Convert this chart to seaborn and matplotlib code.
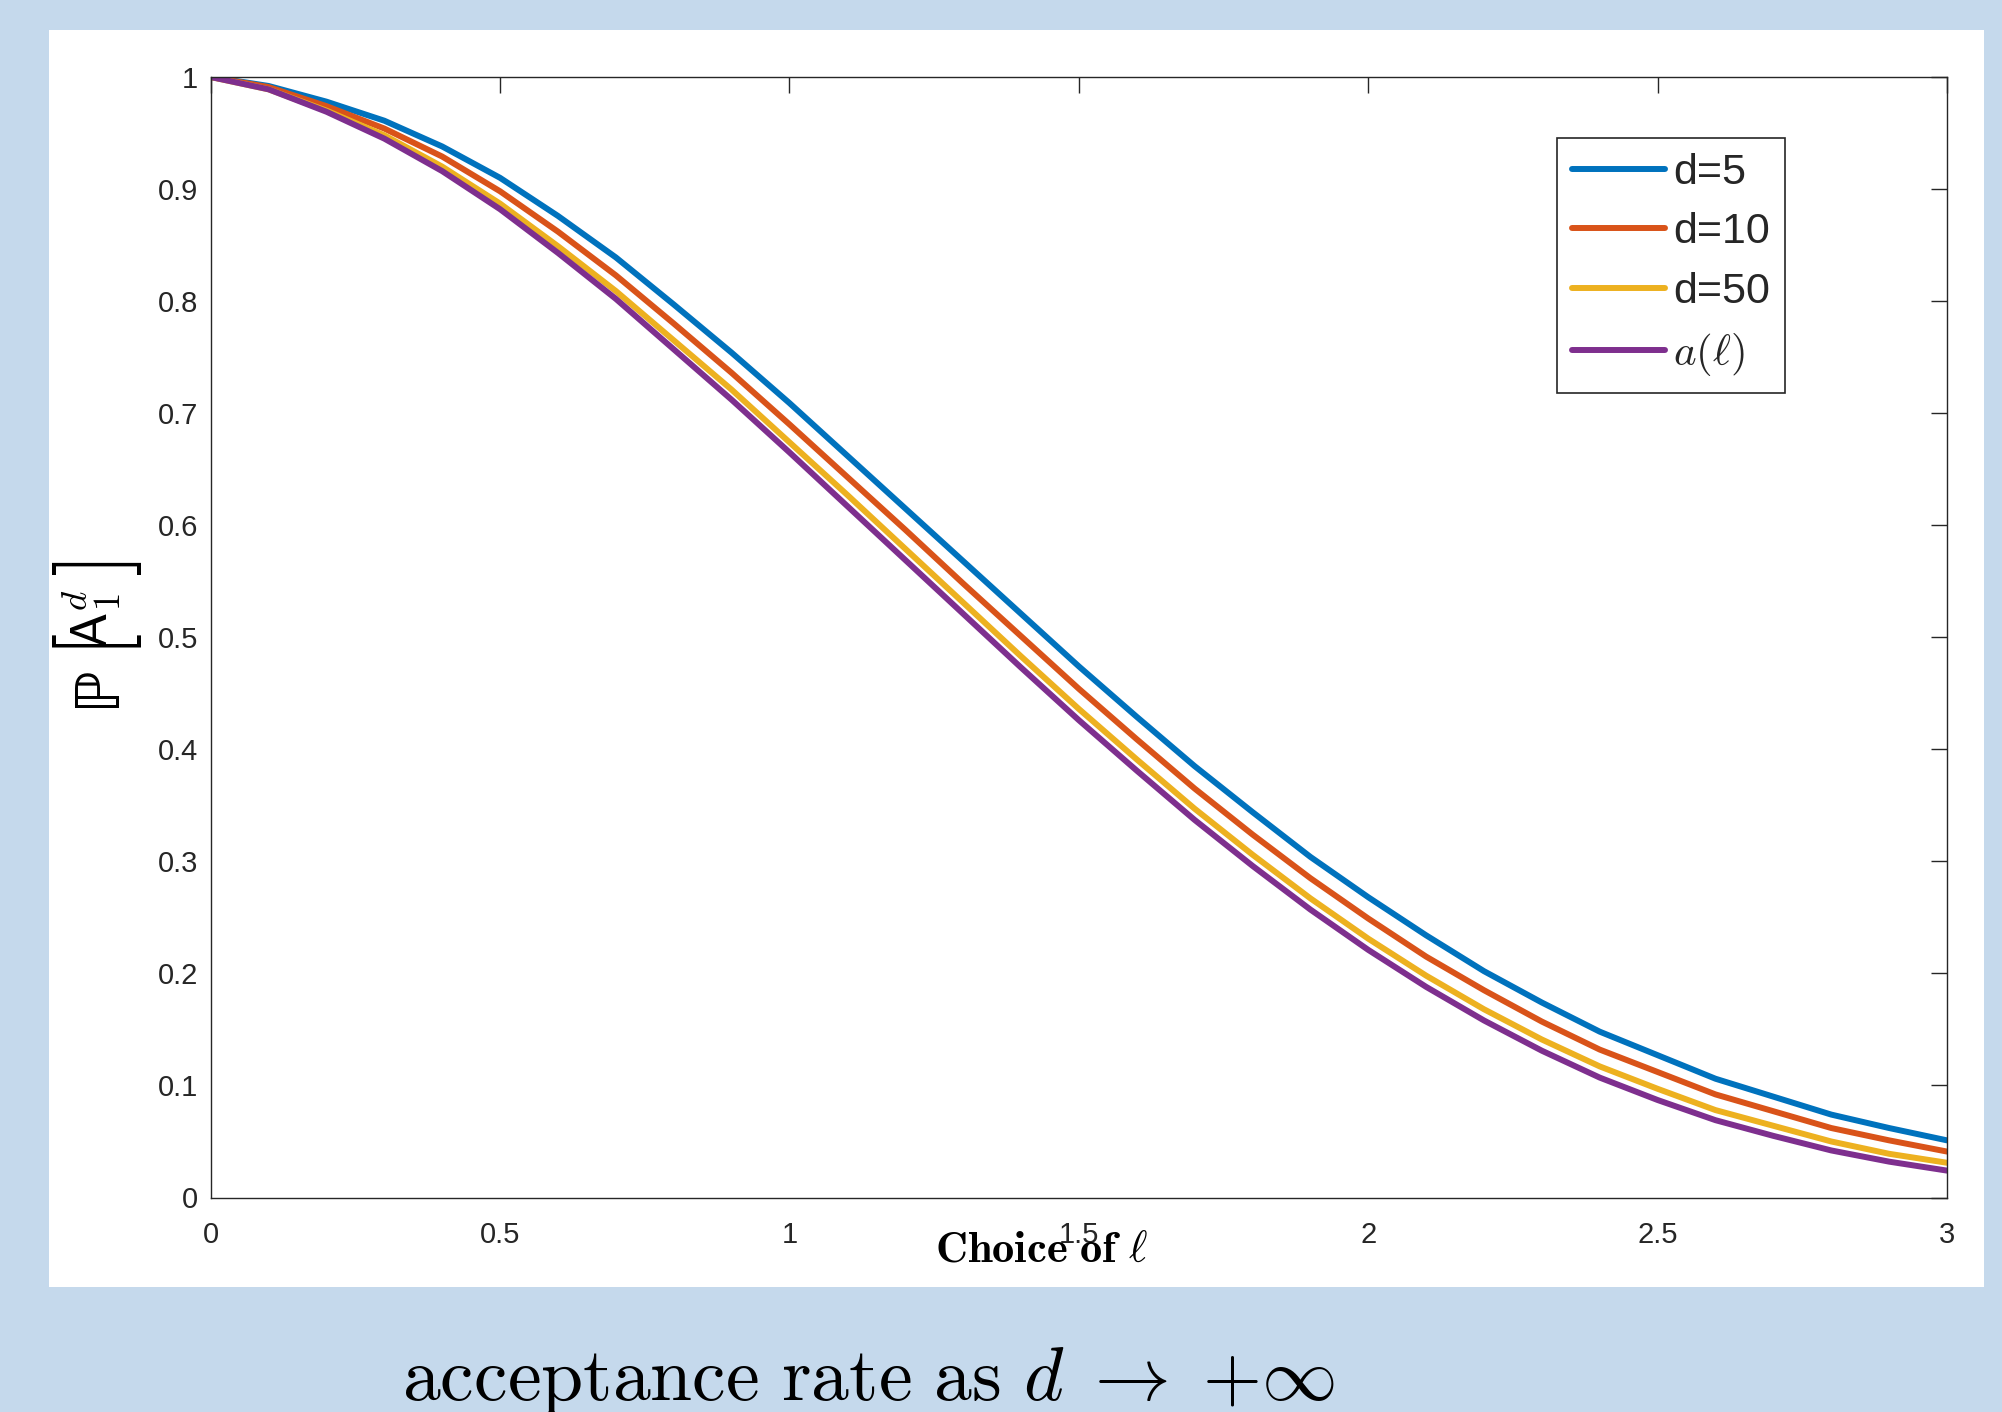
import numpy as np
import matplotlib
matplotlib.use("Agg")
import matplotlib.pyplot as plt
import seaborn as sns
from matplotlib.patches import Rectangle

# step length values (x axis)
ell = [0.0, 0.1, 0.2, 0.3, 0.4, 0.5, 0.6, 0.7, 0.8, 0.9, 1.0,
       1.1, 1.2, 1.3, 1.4, 1.5, 1.6, 1.7, 1.8, 1.9, 2.0,
       2.1, 2.2, 2.3, 2.4, 2.5, 2.6, 2.7, 2.8, 2.9, 3.0]

# acceptance probability
acc_d5 = [1.000, 0.992, 0.978, 0.961, 0.938, 0.910, 0.876, 0.839, 0.797, 0.754, 0.709,
          0.662, 0.615, 0.568, 0.521, 0.474, 0.429, 0.385, 0.344, 0.304, 0.268,
          0.234, 0.202, 0.174, 0.148, 0.127, 0.106, 0.090, 0.074, 0.062, 0.051]
acc_d10 = [1.000, 0.991, 0.974, 0.954, 0.929, 0.898, 0.862, 0.823, 0.780, 0.736, 0.690,
           0.643, 0.596, 0.548, 0.501, 0.454, 0.409, 0.365, 0.324, 0.285, 0.249,
           0.215, 0.185, 0.157, 0.132, 0.112, 0.092, 0.077, 0.062, 0.051, 0.041]
acc_d50 = [1.000, 0.989, 0.970, 0.948, 0.920, 0.887, 0.849, 0.809, 0.765, 0.721, 0.674,
           0.627, 0.579, 0.531, 0.483, 0.436, 0.391, 0.347, 0.306, 0.267, 0.231,
           0.198, 0.168, 0.141, 0.117, 0.097, 0.078, 0.064, 0.050, 0.039, 0.031]
acc_limit = [1.000, 0.989, 0.969, 0.945, 0.916, 0.882, 0.843, 0.802, 0.757, 0.712, 0.665,
             0.617, 0.569, 0.521, 0.473, 0.426, 0.381, 0.337, 0.296, 0.257, 0.221,
             0.188, 0.158, 0.131, 0.107, 0.087, 0.069, 0.055, 0.042, 0.032, 0.024]

labels = ["d=5", "d=10", "d=50", r"$a(\ell)$"]
colors = ["#0072BD", "#D95319", "#EDB120", "#7E2F8E"]

xtick_vals = [0, 0.5, 1, 1.5, 2, 2.5, 3]
xtick_labels = ["0", "0.5", "1", "1.5", "2", "2.5", "3"]
ytick_vals = [0, 0.1, 0.2, 0.3, 0.4, 0.5, 0.6, 0.7, 0.8, 0.9, 1]
ytick_labels = ["0", "0.1", "0.2", "0.3", "0.4", "0.5", "0.6", "0.7", "0.8", "0.9", "1"]

sns.set_style("white")
plt.rcParams["font.family"] = ["Liberation Sans", "DejaVu Sans"]
plt.rcParams["mathtext.fontset"] = "cm"

W, H = 2002, 1412
fig = plt.figure(figsize=(W / 100, H / 100), dpi=100, facecolor="#c5d9ec")

# white panel behind the plot
fig.patches.append(Rectangle((49 / W, 1 - 1287 / H), (1984 - 49) / W, (1287 - 30) / H,
                             transform=fig.transFigure, facecolor="white",
                             edgecolor="none", zorder=-5))

ax = fig.add_axes([210.7 / W, 1 - 1197.5 / H, (1947 - 210.7) / W, (1197.5 - 77) / H])
ax.set_facecolor("white")

for ys, lab, col in zip([acc_d5, acc_d10, acc_d50, acc_limit], labels, colors):
    sns.lineplot(x=ell, y=ys, color=col, linewidth=4.3, label=lab, ax=ax)

ax.set_xlim(0, 3)
ax.set_ylim(0, 1)
ax.set_xticks(xtick_vals)
ax.set_xticklabels(xtick_labels)
ax.set_yticks(ytick_vals)
ax.set_yticklabels(ytick_labels)
ax.tick_params(direction="in", length=11.5, width=1.0, colors="#262626",
               labelsize=21, top=True, right=True)
ax.tick_params(axis="x", pad=17)
ax.tick_params(axis="y", pad=9)
for s in ax.spines.values():
    s.set_color("#262626")
    s.set_linewidth(1.0)
ax.set_xlabel("")
ax.set_ylabel("")

leg = ax.legend(loc="upper left", bbox_to_anchor=(0.7754, 0.9456), borderaxespad=0,
                fontsize=31, frameon=True, fancybox=False, framealpha=1,
                edgecolor="#262626", handlelength=2.15, handletextpad=0.19,
                labelspacing=0.45, borderpad=0.35)
leg.get_frame().set_linewidth(1.2)

# x label (overlaps the 1.5 tick label, as in the original)
fig.text(1042 / W, 1 - 1262 / H, r"$\mathbf{Choice\ of}\ \ell$", fontsize=32,
         ha="center", va="baseline", color="black")

# y label P[A_1^d], built from pieces so the brackets can be tall
ylab = dict(rotation=90, ha="center", va="center", color="black")
fig.text(98 / W, 1 - 686 / H, "\u2119", fontsize=44, family="DejaVu Sans", **ylab)
fig.text(98 / W, 1 - 646 / H, r"$[$", fontsize=64, **ylab)
fig.text(92 / W, 1 - 619 / H, r"$\mathsf{A}_1^d$", fontsize=38, **ylab)
fig.text(98 / W, 1 - 569 / H, r"$]$", fontsize=64, **ylab)

fig.text(868 / W, 12 / H,
         r"$\mathrm{acceptance\ rate\ as}\ d\;\rightarrow\;{+}\infty$",
         fontsize=54.5, ha="center", va="baseline", color="black")

fig.savefig("out.png", dpi=100, facecolor=fig.get_facecolor())
